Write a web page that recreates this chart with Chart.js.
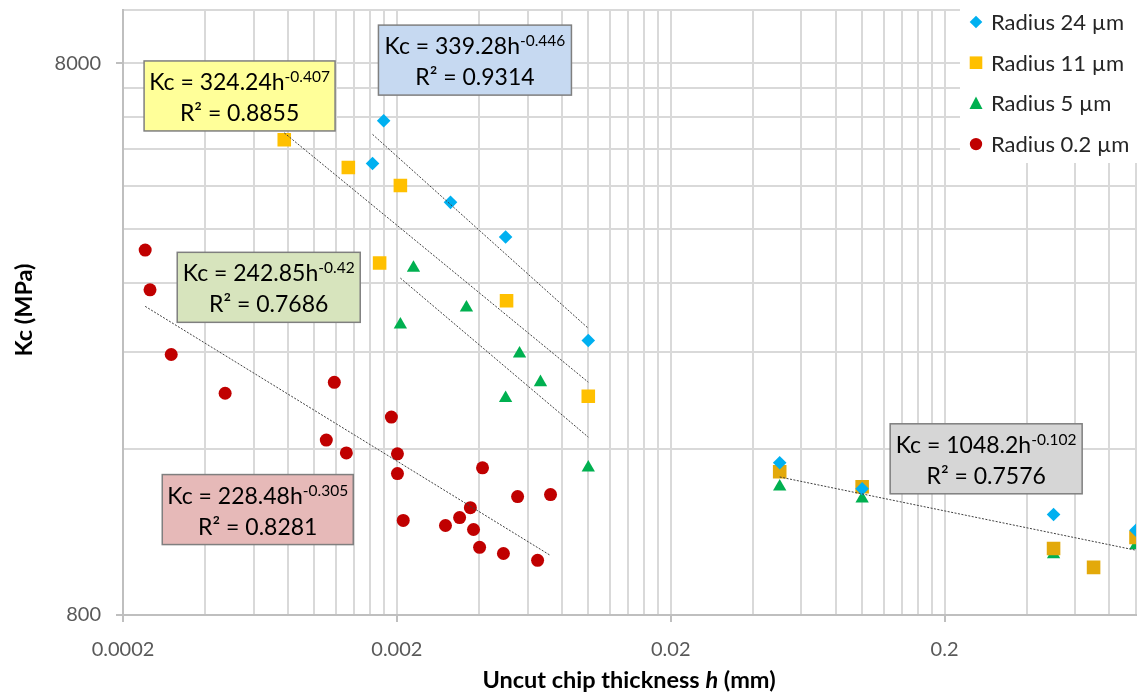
<!DOCTYPE html>
<html>
<head>
<meta charset="utf-8">
<script src="https://cdn.jsdelivr.net/npm/chart.js@4.4.1/dist/chart.umd.min.js"></script>
<style>
  html, body { margin: 0; padding: 0; background: #ffffff; }
  #wrap { width: 1148px; height: 696px; }
</style>
</head>
<body>
<div id="wrap"><canvas id="chart" width="1148" height="696"></canvas></div>
<script>
// Uncut chip thickness h (mm) against specific cutting force Kc (MPa), per cutting edge radius

// Radius 24 µm, micro range
const h24 = [0.00163, 0.00179, 0.00314, 0.00499, 0.0100];
const kc24 = [5262, 6290, 4475, 3872, 2515];
// Radius 11 µm, micro range
const h11 = [0.000776, 0.00133, 0.00173, 0.00206, 0.00503, 0.0100];
const kc11 = [5812, 5174, 3475, 4801, 2968, 1993];
// Radius 5 µm, micro range
const h5 = [0.00206, 0.00230, 0.00359, 0.00499, 0.00561, 0.00669, 0.0100];
const kc5 = [2686, 3404, 2883, 1976, 2381, 2112, 1479];
// Radius 0.2 µm
const h02 = [0.000241, 0.000251, 0.000300, 0.000472, 0.001105, 0.001182, 0.001308,
             0.00191, 0.00201, 0.00201, 0.00211, 0.00301, 0.00339, 0.00371,
             0.00381, 0.00401, 0.00411, 0.00490, 0.00552, 0.00653, 0.00728];
const kc02 = [3667, 3106, 2372, 2018, 1660, 2112, 1573,
              1827, 1567, 1443, 1187, 1162, 1201, 1252,
              1143, 1061, 1478, 1034, 1311, 1005, 1322];

// Conventional range (h from 0.05 mm)
const hLarge24 = [0.05, 0.1, 0.5, 1.0];
const kcLarge24 = [1510, 1355, 1217, 1139];
const hLarge11 = [0.05, 0.1, 0.5, 0.7, 1.0];
const kcLarge11 = [1454, 1366, 1056, 976, 1106];
const hLarge5 = [0.05, 0.1, 0.5, 1.0];
const kcLarge5 = [1367, 1300, 1030, 1070];

// Power-law fits Kc = a·h^b : [24 µm, 11 µm, 5 µm, 0.2 µm, conventional range]
const fitA = [339.28, 324.24, 242.85, 228.48, 1048.2];
const fitB = ['-0.446', '-0.407', '-0.42', '-0.305', '-0.102'];
const fitR2 = ['0.9314', '0.8855', '0.7686', '0.8281', '0.7576'];

// Axis ticks
const xDecades = [0.0002, 0.002, 0.02, 0.2];
const xLabels = ['0.0002', '0.002', '0.02', '0.2'];
const yDecades = [800];
const yLabels = ['800', '8000'];
const seriesNames = ['Radius 24 µm', 'Radius 11 µm', 'Radius 5 µm', 'Radius 0.2 µm'];

// ---- build ticks (1..9 × each decade start) ----
const xTickValues = [];
const xMajor = new Map();
xDecades.forEach((d, i) => {
  const last = (i === xDecades.length - 1) ? 5 : 9;
  for (let k = 1; k <= last; k++) {
    if (k === 1) xMajor.set(xTickValues.length, xLabels[i]);
    xTickValues.push(+(d * k).toPrecision(6));
  }
});
const yTickValues = [];
const yMajor = new Map();
for (let k = 1; k <= 10; k++) {
  if (k === 1) yMajor.set(yTickValues.length, yLabels[0]);
  if (k === 10) yMajor.set(yTickValues.length, yLabels[1]);
  yTickValues.push(yDecades[0] * k);
}
yTickValues.push(10000);

const pts = (hs, ks) => hs.map((h, i) => ({ x: h, y: ks[i] }));
function fitLine(i, hs) {
  const lo = Math.min(...hs), hi = Math.max(...hs), b = parseFloat(fitB[i]);
  return [{ x: lo, y: fitA[i] * Math.pow(lo, b) }, { x: hi, y: fitA[i] * Math.pow(hi, b) }];
}

const C24 = '#00B0F0', C11 = '#FFC000', C11b = '#E3A90A', C5 = '#00B050', C02 = '#C00000';

function markerSet(data, style, color, r, order) {
  return { type: 'scatter', data, pointStyle: style, pointRadius: r, backgroundColor: color,
           borderColor: color, borderWidth: 0, showLine: false, order };
}
function trendSet(data) {
  return { type: 'scatter', data, showLine: true, pointRadius: 0, borderColor: '#404040',
           borderWidth: 1, borderDash: [2, 1.5], fill: false, order: -1 };
}

const datasets = [
  markerSet(pts(h24, kc24), 'rectRot', C24, 6.8, 0),
  markerSet(pts(h11, kc11), 'rect', C11, 9.6, 1),
  markerSet(pts(h5, kc5), 'triangle', C5, 7.7, 2),
  markerSet(pts(h02, kc02), 'circle', C02, 6.5, 3),
  markerSet(pts(hLarge24, kcLarge24), 'rectRot', C24, 6.8, 0),
  markerSet(pts(hLarge11, kcLarge11), 'rect', C11b, 9.6, 1),
  markerSet(pts(hLarge5, kcLarge5), 'triangle', C5, 7.7, 2),
  trendSet(fitLine(0, h24)),
  trendSet(fitLine(1, h11)),
  trendSet(fitLine(2, h5)),
  trendSet(fitLine(3, h02)),
  trendSet(fitLine(4, hLarge24.concat(hLarge11, hLarge5)))
];

// Equation boxes, anchored in data space (h, Kc) at their centres
const fitBoxes = [
  { fit: 0, h: 0.003856, kc: 8100, w: 193, fill: '#C6D9F1' },
  { fit: 1, h: 0.000533, kc: 6975, w: 191, fill: '#FFFF99' },
  { fit: 2, h: 0.000681, kc: 3139, w: 183, fill: '#D7E4BD' },
  { fit: 3, h: 0.000621, kc: 1242, w: 191, fill: '#E6B9B8' },
  { fit: 4, h: 0.2837, kc: 1535, w: 192, fill: '#D6D6D6' }
];

const FONT = 'Lato, "Open Sans", sans-serif';

const fitLabelPlugin = {
  id: 'fitLabels',
  afterDatasetsDraw(chart) {
    const { ctx, scales: { x, y } } = chart;
    ctx.save();
    fitBoxes.forEach(b => {
      const cx = x.getPixelForValue(b.h), cy = y.getPixelForValue(b.kc);
      const bh = 70;
      ctx.fillStyle = b.fill;
      ctx.fillRect(cx - b.w / 2, cy - bh / 2, b.w, bh);
      ctx.strokeStyle = '#7f7f7f';
      ctx.lineWidth = 1.5;
      ctx.strokeRect(cx - b.w / 2, cy - bh / 2, b.w, bh);
      ctx.fillStyle = '#000000';
      ctx.textBaseline = 'alphabetic';
      ctx.textAlign = 'left';
      const main = 'Kc = ' + fitA[b.fit] + 'h';
      const sup = fitB[b.fit];
      ctx.font = '23px ' + FONT;
      const wMain = ctx.measureText(main).width;
      ctx.font = '15.5px ' + FONT;
      const wSup = ctx.measureText(sup).width;
      const x0 = cx - (wMain + wSup) / 2;
      ctx.font = '23px ' + FONT;
      ctx.fillText(main, x0, cy - 6);
      ctx.font = '15.5px ' + FONT;
      ctx.fillText(sup, x0 + wMain, cy - 14);
      ctx.font = '23px ' + FONT;
      ctx.textAlign = 'center';
      ctx.fillText('R² = ' + fitR2[b.fit], cx, cy + 25);
    });
    ctx.restore();
  }
};

const legendAndTitlesPlugin = {
  id: 'legendAndTitles',
  afterDraw(chart) {
    const { ctx } = chart;
    ctx.save();
    // legend panel
    ctx.fillStyle = '#ffffff';
    ctx.fillRect(960, 0, 188, 163);
    const styles = [
      { s: 'rectRot', c: C24 }, { s: 'rect', c: C11 }, { s: 'triangle', c: C5 }, { s: 'circle', c: C02 }
    ];
    styles.forEach((st, i) => {
      const mx = 976, my = 22 + i * 40.7;
      ctx.fillStyle = st.c;
      ctx.beginPath();
      if (st.s === 'rectRot') {
        ctx.moveTo(mx - 6.3, my); ctx.lineTo(mx, my - 6.3); ctx.lineTo(mx + 6.3, my); ctx.lineTo(mx, my + 6.3);
      } else if (st.s === 'rect') {
        ctx.rect(mx - 6.3, my - 6.3, 12.6, 12.6);
      } else if (st.s === 'triangle') {
        ctx.moveTo(mx, my - 7); ctx.lineTo(mx + 6.5, my + 5.5); ctx.lineTo(mx - 6.5, my + 5.5);
      } else {
        ctx.arc(mx, my, 6.2, 0, Math.PI * 2);
      }
      ctx.closePath();
      ctx.fill();
      ctx.fillStyle = '#262626';
      ctx.font = '22px ' + FONT;
      ctx.textAlign = 'left';
      ctx.textBaseline = 'middle';
      ctx.fillText(seriesNames[i], 991, my + 1);
    });

    // y axis title
    ctx.fillStyle = '#000000';
    ctx.font = 'bold 23.5px ' + FONT;
    ctx.translate(24, 310);
    ctx.rotate(-Math.PI / 2);
    ctx.textAlign = 'center';
    ctx.textBaseline = 'middle';
    ctx.fillText('Kc (MPa)', 0, 0);
    ctx.setTransform(1, 0, 0, 1, 0, 0);

    // x axis title with italic h
    const parts = [
      { t: 'Uncut chip thickness ', f: 'bold 23.5px ' + FONT },
      { t: 'h', f: 'italic bold 23.5px ' + FONT },
      { t: ' (mm)', f: 'bold 23.5px ' + FONT }
    ];
    let total = 0;
    parts.forEach(p => { ctx.font = p.f; p.w = ctx.measureText(p.t).width; total += p.w; });
    let px = 629 - total / 2;
    ctx.textAlign = 'left';
    ctx.textBaseline = 'middle';
    parts.forEach(p => { ctx.font = p.f; ctx.fillText(p.t, px, 680); px += p.w; });
    ctx.restore();
  }
};

const GRID = '#d9d9d9';
const AXIS = '#bfbfbf';

function noEdgePadding(s) {
  s.paddingTop = 0; s.paddingBottom = 0; s.paddingLeft = 0; s.paddingRight = 0;
}

new Chart(document.getElementById('chart'), {
  type: 'scatter',
  data: { datasets },
  options: {
    responsive: false,
    animation: false,
    events: [],
    layout: { padding: { left: 0, right: 12, top: 4, bottom: 0 } },
    plugins: { legend: { display: false }, tooltip: { enabled: false }, title: { display: false } },
    scales: {
      x: {
        type: 'logarithmic',
        min: 0.0002,
        max: 1.0,
        afterBuildTicks: s => { s.ticks = xTickValues.map(v => ({ value: v })); },
        afterFit: s => { s.height = 81; noEdgePadding(s); },
        ticks: {
          autoSkip: false, maxRotation: 0, minRotation: 0,
          padding: 16,
          color: '#595959',
          font: { family: FONT, size: 20 },
          callback: (v, i) => xMajor.has(i) ? xMajor.get(i) : ''
        },
        grid: {
          color: GRID, lineWidth: 2, tickLength: 7,
          tickColor: c => xMajor.has(c.index) ? AXIS : 'rgba(0,0,0,0)'
        },
        border: { color: AXIS, width: 2 }
      },
      y: {
        type: 'logarithmic',
        min: 800,
        max: 10000,
        afterBuildTicks: s => { s.ticks = yTickValues.map(v => ({ value: v })); },
        afterFit: s => { s.width = 123; noEdgePadding(s); },
        ticks: {
          autoSkip: false,
          padding: 15,
          color: '#595959',
          font: { family: FONT, size: 20 },
          callback: (v, i) => yMajor.has(i) ? yMajor.get(i) : ''
        },
        grid: {
          color: GRID, lineWidth: 2, tickLength: 7,
          tickColor: c => yMajor.has(c.index) ? AXIS : 'rgba(0,0,0,0)'
        },
        border: { color: AXIS, width: 2 }
      }
    }
  },
  plugins: [fitLabelPlugin, legendAndTitlesPlugin]
});
</script>
</body>
</html>
